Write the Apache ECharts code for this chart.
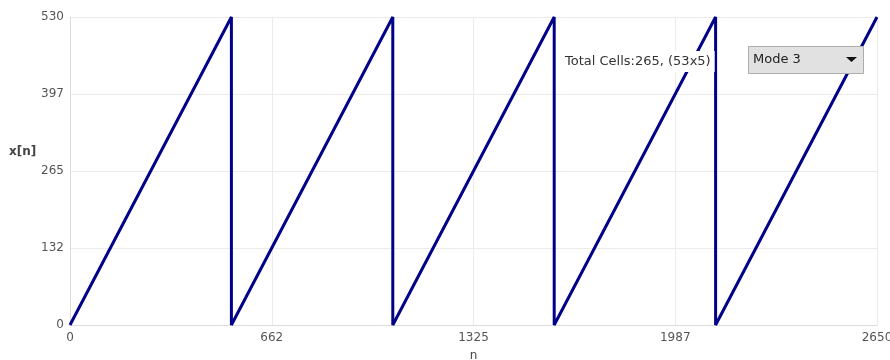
<!DOCTYPE html>
<html><head><meta charset="utf-8">
<script src="https://cdn.jsdelivr.net/npm/echarts@6/dist/echarts.min.js"></script>
<style>html,body{margin:0;padding:0;background:#fff}#c{width:890px;height:360px}</style>
</head><body><div id="c"></div>
<script>
const nValues = [0, 530, 530, 1060, 1060, 1590, 1590, 2120, 2120, 2650];
const xValues = [0, 530, 0, 530, 0, 530, 0, 530, 0, 530];
const xAxisMax = 2650;
const yAxisMax = 530;
const infoText = 'Total Cells:265, (53x5)';
const modeText = 'Mode 3';
const yName = 'x[n]';

const chart = echarts.init(document.getElementById('c'), null, {renderer: 'canvas'});
const font = 'Tahoma, "DejaVu Sans", sans-serif';
chart.setOption({
  animation: false,
  backgroundColor: '#fff',
  grid: {left: 70, right: 13, top: 17, bottom: 35, containLabel: false, outerBoundsMode: 'none'},
  xAxis: {
    type: 'value', min: 0, max: xAxisMax, interval: xAxisMax / 4,
    name: 'n', nameLocation: 'middle', nameGap: 25,
    nameTextStyle: {color: '#444', fontSize: 12, fontFamily: font},
    axisLine: {show: true, lineStyle: {color: '#dcdcdc'}},
    axisTick: {show: false},
    axisLabel: {color: '#555', fontSize: 12, fontFamily: font, margin: 7,
      formatter: v => String(Math.floor(v))},
    splitLine: {show: true, lineStyle: {color: '#ebebeb'}}
  },
  yAxis: {
    type: 'value', min: 0, max: yAxisMax, interval: yAxisMax / 4,
    axisLine: {show: true, lineStyle: {color: '#dcdcdc'}},
    axisTick: {show: false},
    axisLabel: {color: '#555', fontSize: 12, fontFamily: font, margin: 6,
      formatter: v => String(Math.floor(v))},
    splitLine: {show: true, lineStyle: {color: '#ebebeb'}}
  },
  series: [{
    type: 'line',
    data: nValues.map((n, i) => [n, xValues[i]]),
    showSymbol: false,
    lineStyle: {color: '#000088', width: 3},
    clip: false
  }],
  graphic: [
    {type: 'text', left: 9, top: 146, z: 100,
      style: {text: yName, fill: '#444', font: 'bold 12px ' + font}},
    {type: 'text', left: 561, top: 51, z: 100,
      style: {text: infoText, fill: '#333', font: '13px ' + font,
        backgroundColor: '#fff', padding: [4, 4, 4, 4]}},
    {type: 'rect', left: 748, top: 46, z: 100,
      shape: {width: 115, height: 27},
      style: {fill: '#e1e1e1', stroke: '#adadad', lineWidth: 1}},
    {type: 'text', left: 753, top: 53, z: 101,
      style: {text: modeText, fill: '#222', font: '13px ' + font}},
    {type: 'polygon', z: 101,
      shape: {points: [[846, 57], [857, 57], [851.5, 62]]},
      style: {fill: '#111'}}
  ]
});
</script></body></html>
